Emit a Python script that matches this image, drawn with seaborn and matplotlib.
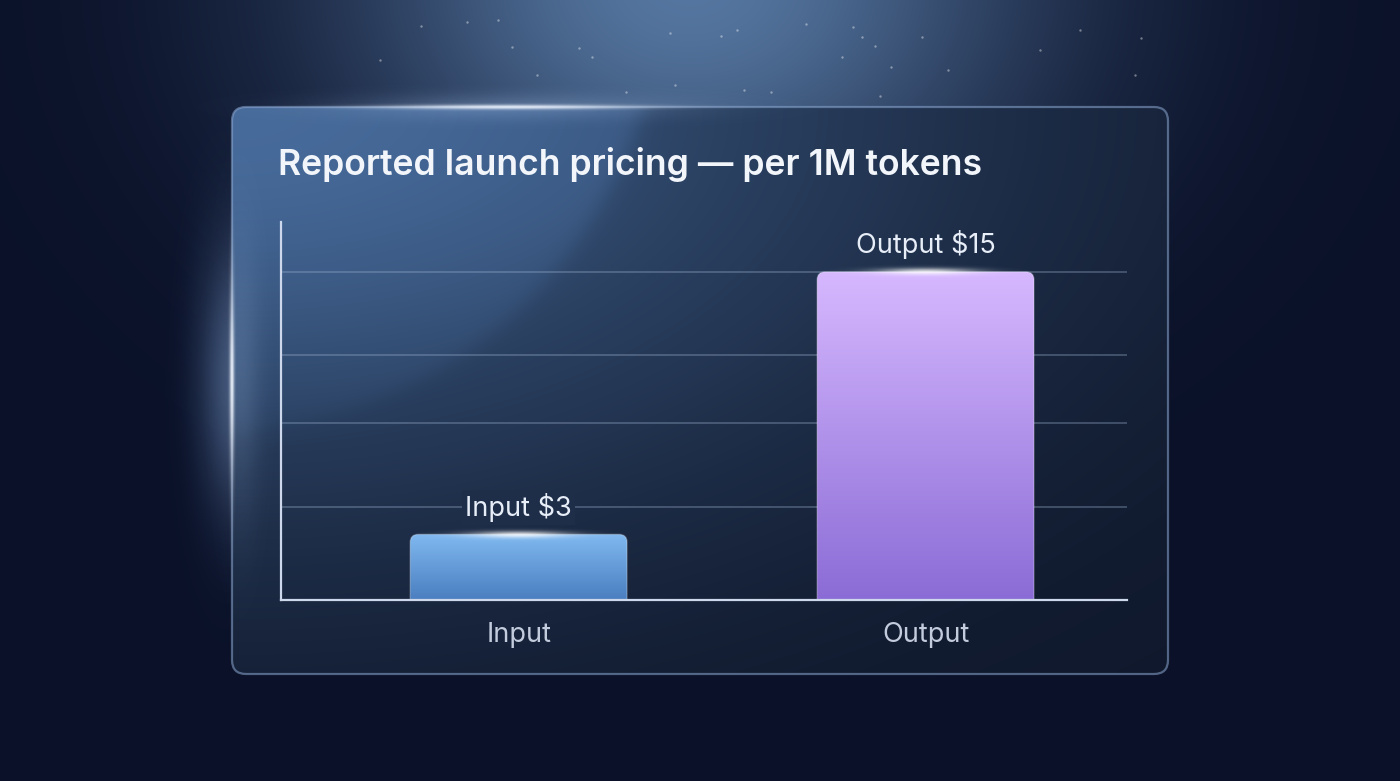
import numpy as np
import pandas as pd
import matplotlib.pyplot as plt
import seaborn as sns
from matplotlib.patches import FancyBboxPatch

# Dados
categories = ["Input", "Output"]
prices = [3, 15]
title_text = "Reported launch pricing — per 1M tokens"
grid_values = [4.25, 8.1, 11.2, 15]

bar_top_colors = ["#80b9f0", "#d6b8ff"]
bar_bottom_colors = ["#4a7ec0", "#8b6cd6"]

W, H = 1400, 781
sns.set_theme(style="white")
plt.rcParams["font.family"] = ["Inter", "DejaVu Sans"]


def hex2rgb(h):
    return np.array([int(h[i:i + 2], 16) for i in (1, 3, 5)]) / 255


def add_glow(axg, cx, cy, sx, sy, color, alpha, z):
    gx = np.linspace(cx - 3 * sx, cx + 3 * sx, 90)
    gy = np.linspace(cy - 3 * sy, cy + 3 * sy, 90)
    g = np.exp(-0.5 * (((gx[None, :] - cx) / sx) ** 2 + ((gy[:, None] - cy) / sy) ** 2))
    rgba = np.zeros((90, 90, 4))
    rgba[..., :3] = color
    rgba[..., 3] = alpha * g
    axg.imshow(rgba, extent=(gx[0], gx[-1], gy[-1], gy[0]), aspect="auto",
               zorder=z, interpolation="bilinear")


fig = plt.figure(figsize=(W / 100, H / 100), dpi=100)

# fundo (coordenadas em pixels)
bg = fig.add_axes([0, 0, 1, 1], zorder=0)
yy, xx = np.mgrid[0:H, 0:W] + 0.5
base = hex2rgb("#0a1128")
glowc = hex2rgb("#5576a0")
d2 = ((xx - 690) / 430) ** 2 + ((yy + 20) / 330) ** 2
img = base + (glowc - base) * np.exp(-d2 * 1.5)[..., None]
img = np.clip(img, 0, 1)
bg.imshow(img, extent=(0, W, H, 0), aspect="auto", interpolation="bilinear", zorder=0)

# halo à esquerda do painel
add_glow(bg, 226, 380, 22, 95, hex2rgb("#6f92c4"), 0.4, 1)

# estrelas
stars_x = [421, 467, 498, 512, 537, 579, 592, 626, 670, 675, 721, 737, 744, 771, 806,
           842, 853, 862, 875, 880, 891, 922, 948, 1141, 1135, 380, 1040, 1080]
stars_y = [26, 22, 20, 47, 75, 48, 57, 92, 33, 85, 36, 30, 90, 92, 24,
           57, 27, 37, 46, 96, 67, 37, 70, 38, 75, 60, 50, 30]
bg.scatter(stars_x, stars_y, s=3, color="white", alpha=0.4, lw=0, zorder=2)

# painel
px0, py0, px1, py1 = 232, 107, 1168, 674
panel_clip = FancyBboxPatch((px0, py0), px1 - px0, py1 - py0,
                            boxstyle="round,pad=0,rounding_size=14",
                            transform=bg.transData, facecolor="none", edgecolor="none")
bg.add_patch(panel_clip)
dark = hex2rgb("#0e1629")
mid = hex2rgb("#3a5880")
f = np.exp(-(((xx - 232) / 760) ** 2 + ((yy - 107) / 430) ** 2))
pimg = dark + (mid - dark) * f[..., None]
rc = np.sqrt((xx - 200) ** 2 + (yy + 30) ** 2)
inside = 1 / (1 + np.exp((rc - 465) / 6))
pimg = pimg + hex2rgb("#2a3e58") * 0.3 * (inside * np.exp(-((yy - 107) / 320) ** 2))[..., None]
pimg = np.clip(pimg, 0, 1)
pim = bg.imshow(pimg, extent=(0, W, H, 0), aspect="auto", interpolation="bilinear", zorder=3)
pim.set_clip_path(panel_clip)

panel_edge = FancyBboxPatch((px0, py0), px1 - px0, py1 - py0,
                            boxstyle="round,pad=0,rounding_size=14",
                            transform=bg.transData, facecolor="none",
                            edgecolor=(0.55, 0.66, 0.82, 0.55), lw=1.6, zorder=4)
bg.add_patch(panel_edge)

# brilhos da borda
add_glow(bg, 510, 107, 85, 1.6, np.array([1, 1, 1]), 0.9, 5)
add_glow(bg, 510, 107, 120, 9, hex2rgb("#a8c4ee"), 0.25, 5)
add_glow(bg, 232, 378, 1.6, 65, np.array([1, 1, 1]), 0.9, 5)
add_glow(bg, 240, 378, 14, 95, hex2rgb("#a8c4ee"), 0.2, 5)

bg.set_xlim(0, W)
bg.set_ylim(H, 0)
bg.axis("off")

# gráfico
ax = fig.add_axes([281 / W, 1 - 600 / H, (1127 - 281) / W, (600 - 222) / H], zorder=2)
ax.patch.set_alpha(0)
df = pd.DataFrame({"category": categories, "price": prices})
sns.barplot(data=df, x="category", y="price", ax=ax, width=0.533, color="#888888", zorder=3)

xlim = (-0.584, 1.495)
ylim = (0, 17.28)
ax.set_xlim(*xlim)
ax.set_ylim(*ylim)

px_per_x = 846 / (xlim[1] - xlim[0])
px_per_y = 378 / (ylim[1] - ylim[0])
rx = 8 / px_per_x
asp = px_per_x / px_per_y

for g in grid_values:
    ax.axhline(g, color=(0.62, 0.7, 0.82, 0.38), lw=1.2, zorder=1)

for i, bar in enumerate(list(ax.patches)):
    x0, w, h = bar.get_x(), bar.get_width(), bar.get_height()
    bar.set_visible(False)
    top = hex2rgb(bar_top_colors[i])
    bot = hex2rgb(bar_bottom_colors[i])
    t = np.linspace(0, 1, 200)[:, None, None]
    arr = top + (bot - top) * t
    im = ax.imshow(arr, extent=(x0, x0 + w, 0, h), aspect="auto", zorder=3,
                   interpolation="bilinear")
    clip = FancyBboxPatch((x0, -2), w, h + 2,
                          boxstyle=f"round,pad=0,rounding_size={rx}",
                          mutation_aspect=asp, transform=ax.transData,
                          facecolor="none", edgecolor=(1, 1, 1, 0.25), lw=1, zorder=4)
    ax.add_patch(clip)
    im.set_clip_path(clip)

ax.set_xlim(*xlim)
ax.set_ylim(*ylim)

for i, (cat, p) in enumerate(zip(categories, prices)):
    dx, dy = ax.transData.transform((i, p))
    kw = {}
    # corta a linha de grade atrás da etiqueta, com a cor do painel naquele ponto
    if any(abs(g - p) < 2 for g in grid_values if g > p):
        fc = pimg[int(H - dy - 26), int(dx)]
        kw["bbox"] = dict(boxstyle="square,pad=0.12", fc=fc, ec="none")
    ax.annotate(f"{cat} \\${p}", xy=(i, p), xytext=(0, 9), textcoords="offset points",
                ha="center", va="bottom", fontsize=19.5, color="#e8eef8", zorder=6, **kw)

ax.set_yticks([])
ax.set_xlabel("")
ax.set_ylabel("")
ax.tick_params(axis="x", length=0, pad=16, labelsize=19.5, labelcolor="#c3ccdd")
for s in ["top", "right"]:
    ax.spines[s].set_visible(False)
for s in ["left", "bottom"]:
    ax.spines[s].set_color("#cdd8ec")
    ax.spines[s].set_linewidth(1.6)
    ax.spines[s].set_zorder(5)

# brilho no topo das barras
ov = fig.add_axes([0, 0, 1, 1], zorder=3)
ov.patch.set_alpha(0)
for i, p in enumerate(prices):
    dx, dy = ax.transData.transform((i, p))
    add_glow(ov, dx, H - dy, 35, 2.5, np.array([1, 1, 1]), 0.8, 2)
ov.set_xlim(0, W)
ov.set_ylim(H, 0)
ov.axis("off")

fig.text(278 / W, 1 - 165 / H, title_text, fontsize=25.6, fontweight="semibold",
         color="#f2f5fa", va="center", ha="left")

fig.savefig("out.png", dpi=100)
